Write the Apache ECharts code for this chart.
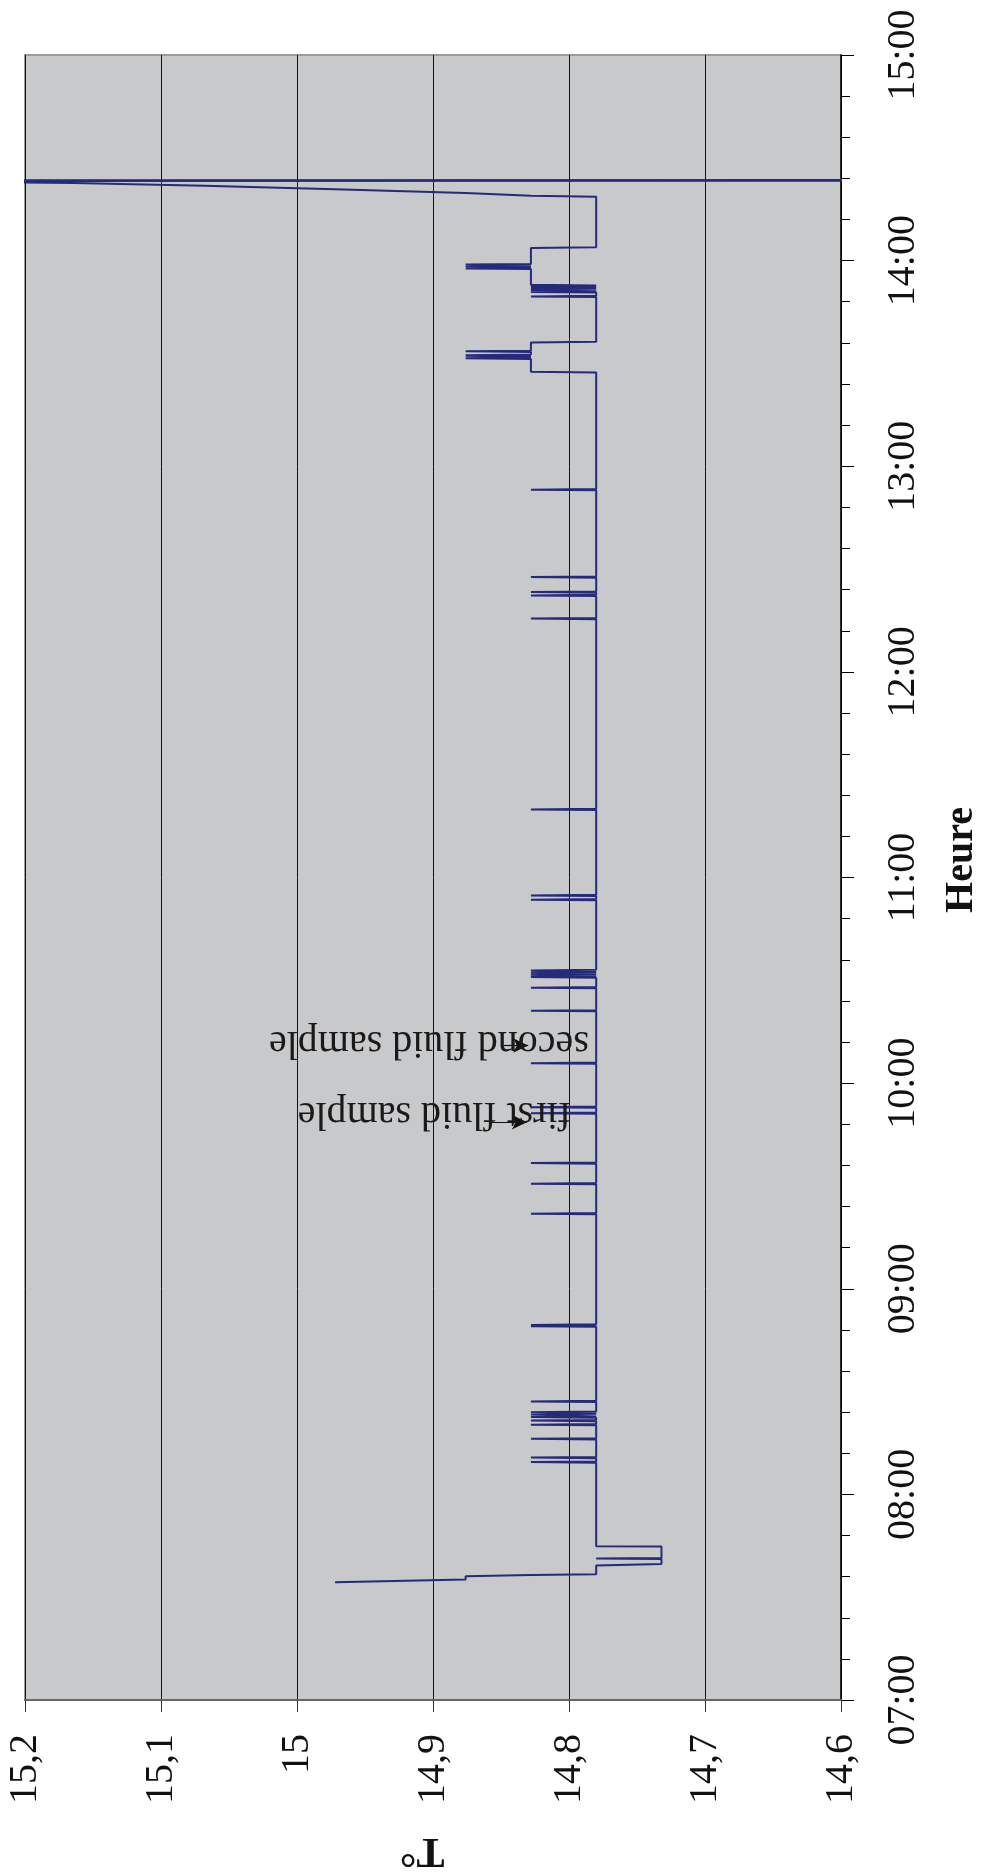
<!DOCTYPE html>
<html>
<head>
<meta charset="utf-8">
<script src="https://cdn.jsdelivr.net/npm/echarts@6/dist/echarts.min.js"></script>
<style>
  html, body { margin: 0; padding: 0; background: #fff; }
  #chart { width: 992px; height: 1874px; }
</style>
</head>
<body>
<div id="chart"></div>
<script>
// hour of day (decimal) and temperature readings
const startSteps = [
  [7.573, 14.972], [7.586, 14.876], [7.602, 14.876], [7.608, 14.828], [7.611, 14.78],
  [7.654, 14.78], [7.661, 14.732], [7.686, 14.732], [7.688, 14.78], [7.690, 14.732],
  [7.746, 14.732], [7.748, 14.78]
];
// short jumps 14.78 -> 14.828 -> 14.78
const morningSpikes = [
  8.157, 8.179, 8.270, 8.339, 8.359, 8.376, 8.389, 8.400, 8.452, 8.818, 8.824,
  9.365, 9.511, 9.611, 9.854, 9.883, 10.097, 10.352, 10.464, 10.516, 10.527,
  10.538, 10.548, 10.892, 10.913, 11.331, 12.259, 12.372, 12.388, 12.461, 12.886
];
// short jumps 14.828 -> 14.876 -> 14.828
const highSpikesA = [13.525, 13.532, 13.540, 13.559];
const flicker = [13.826, 13.848, 13.855, 13.862, 13.869, 13.876];
const highSpikesB = [13.962, 13.970, 13.981];
const endRise = [
  [14.311, 14.78], [14.316, 14.828], [14.324, 14.828], [14.329, 14.876], [14.337, 14.876],
  [14.347, 14.972], [14.355, 14.972], [14.364, 15.068], [14.373, 15.068], [14.378, 15.164],
  [14.383, 15.164], [14.387, 15.3], [14.389, 14.5], [14.391, 15.3], [14.392, 14.5]
];

const hourLabels = ["07:00", "08:00", "09:00", "10:00", "11:00", "12:00", "13:00", "14:00", "15:00"];
const tempLabels = ["15,2", "15,1", "15", "14,9", "14,8", "14,7", "14,6"];

const noteLabels = ["first fluid sample", "second fluid sample"];
const noteHours = [9.850, 10.196];
const noteTemps = [14.899, 14.903];
const arrowHours = [9.810, 10.183];
const arrowFrom = [14.858, 14.848];
const arrowTo = [14.831, 14.830];

const base = 14.78, high = 14.828, higher = 14.876;

function spike(t, from, to) {
  return [[t - 0.003, from], [t, to], [t + 0.003, from]];
}

const readings = [
  ...startSteps,
  ...morningSpikes.flatMap((t) => spike(t, base, high)),
  [13.456, base], [13.460, high],
  ...highSpikesA.flatMap((t) => spike(t, high, higher)),
  [13.602, high], [13.606, base],
  ...flicker.flatMap((t) => spike(t, base, high)),
  [13.880, base], [13.883, high],
  ...highSpikesB.flatMap((t) => spike(t, high, higher)),
  [14.061, high], [14.065, base],
  ...endRise
];

const serif = "Liberation Serif";
const chart = echarts.init(document.getElementById("chart"));

chart.setOption({
  animation: false,
  backgroundColor: "#ffffff",
  grid: {
    left: 25, right: 151, top: 55, bottom: 174,
    show: true, backgroundColor: "#c8c9cb", borderColor: "#9c9c9c", borderWidth: 2
  },
  xAxis: {
    type: "value", min: 14.6, max: 15.2, interval: 0.1, inverse: true,
    axisLine: { show: true, onZero: false, lineStyle: { color: "#666", width: 2 } },
    axisTick: { show: true, length: 12, lineStyle: { color: "#333" } },
    axisLabel: {
      rotate: 90, margin: 34, fontFamily: serif, fontSize: 40, color: "#111",
      formatter: (v) => tempLabels[Math.round((15.2 - v) * 10)]
    },
    splitLine: { show: true, lineStyle: { color: "#111", width: 1 } }
  },
  yAxis: {
    type: "value", min: 7, max: 15, interval: 1, position: "right",
    axisLine: { show: true, lineStyle: { color: "#000", width: 1.5 } },
    axisTick: { show: true, length: 13, lineStyle: { color: "#000" } },
    minorTick: { show: true, splitNumber: 5, length: 9, lineStyle: { color: "#000" } },
    axisLabel: {
      rotate: 90, margin: 42, fontFamily: serif, fontSize: 40, color: "#111",
      formatter: (v) => hourLabels[Math.round(v) - 7]
    },
    splitLine: { show: false }
  },
  series: [{
    type: "line",
    data: readings.map(([h, t]) => [t, h]),
    symbol: "none",
    clip: true,
    lineStyle: { color: "#262a7b", width: 2 },
    markLine: {
      silent: true,
      symbol: ["none", "arrow"],
      symbolSize: [11, 15],
      label: { show: false },
      lineStyle: { color: "#111", width: 1.2, type: "solid" },
      data: arrowHours.map((h, i) => [{ coord: [arrowFrom[i], h] }, { coord: [arrowTo[i], h] }])
    }
  }]
});

const notes = noteLabels.map((text, i) => {
  const [x, y] = chart.convertToPixel({ gridIndex: 0 }, [noteTemps[i], noteHours[i]]);
  return {
    type: "text", x, y, rotation: Math.PI, z: 10,
    style: { text, font: `40px "${serif}"`, fill: "#1a1a1a", align: "center", verticalAlign: "middle" }
  };
});

chart.setOption({
  graphic: [
    ...notes,
    {
      type: "text", x: 962, y: 860, rotation: Math.PI / 2,
      style: { text: "Heure", font: `bold 40px "${serif}"`, fill: "#111", align: "center", verticalAlign: "middle" }
    },
    {
      type: "text", x: 422, y: 1850, rotation: Math.PI,
      style: { text: "T°", font: `bold 42px "${serif}"`, fill: "#111", align: "center", verticalAlign: "middle" }
    }
  ]
});
</script>
</body>
</html>
